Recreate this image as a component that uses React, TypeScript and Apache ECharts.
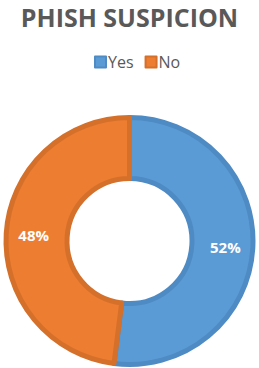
import React, { useEffect, useRef } from "react";
import * as echarts from "echarts";

const categories = ["Yes", "No"];
const values = [52, 48];
const fillColors = ["#5B9BD5", "#ED7D31"];
const borderColors = ["#4E8BC4", "#D5702B"];

export default function App() {
  const ref = useRef<HTMLDivElement>(null);
  useEffect(() => {
    document.body.style.margin = "0";
    const chart = echarts.init(ref.current!, null, { renderer: "svg" });
    chart.setOption({
      animation: false,
      title: {
        text: "PHISH SUSPICION",
        left: "center",
        top: -1,
        textStyle: {
          fontFamily: "Open Sans",
          fontWeight: "bold",
          fontSize: 25,
          color: "#595959",
        },
      },
      legend: {
        top: 49,
        left: 89,
        icon: "rect",
        itemWidth: 11,
        itemHeight: 11,
        itemGap: 11,
        textStyle: { fontFamily: "Open Sans", fontSize: 16, color: "#595959", padding: [0, 0, 0, -3] },
        data: categories,
      },
      series: [
        {
          type: "pie",
          center: [129.5, 241],
          radius: [62.5, 123.5],
          startAngle: 90,
          clockwise: true,
          label: {
            show: true,
            position: "inside",
            color: "#fff",
            fontFamily: "Open Sans",
            fontWeight: "bold",
            fontSize: 15,
            formatter: (p: any) => Math.round(p.percent) + "%",
          },
          labelLine: { show: false },
          emphasis: { disabled: true },
          data: categories.map((c, i) => ({
            name: c,
            value: values[i],
            itemStyle: { color: fillColors[i], borderColor: borderColors[i], borderWidth: 5 },
          })),
        },
      ],
    });
    return () => chart.dispose();
  }, []);
  return <div ref={ref} style={{ width: 259, height: 368 }} />;
}
